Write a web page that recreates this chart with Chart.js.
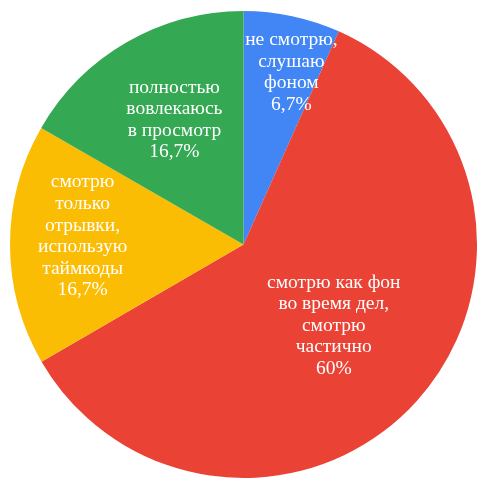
<!DOCTYPE html>
<html>
<head>
<meta charset="utf-8">
<script src="https://cdn.jsdelivr.net/npm/chart.js@4/dist/chart.umd.min.js"></script>
<style>
  html, body { margin: 0; padding: 0; background: #fff; overflow: hidden; }
  #wrap { width: 477px; height: 481px; position: relative; }
</style>
</head>
<body>
<div id="wrap"><canvas id="pie"></canvas></div>
<script>
// ответы на вопрос, по часовой стрелке от верхней точки
const labels = [
  ['не смотрю,', 'слушаю', 'фоном'],
  ['смотрю как фон', 'во время дел,', 'смотрю', 'частично'],
  ['смотрю', 'только', 'отрывки,', 'использую', 'таймкоды'],
  ['полностью', 'вовлекаюсь', 'в просмотр']
];
const values = [6.7, 60, 16.7, 16.7];
const percentText = ['6,7%', '60%', '16,7%', '16,7%'];
const colors = ['#4285f4', '#ea4335', '#fbbc04', '#34a853'];

const LABEL_FONT = '19.5px "Liberation Serif", "Times New Roman", serif';
const LINE_HEIGHT = 21.6;
// доля радиуса и сдвиг угла (в градусах) для подписи каждого сектора
const LABEL_PLACE = [[0.765, 3.5], [0.52, 0], [0.69, 3], [0.61, 1]];

// подписи внутри секторов
const sliceText = {
  id: 'sliceText',
  afterDatasetsDraw(chart) {
    const ctx = chart.ctx;
    const meta = chart.getDatasetMeta(0);
    ctx.save();
    ctx.fillStyle = '#ffffff';
    ctx.font = LABEL_FONT;
    ctx.textAlign = 'center';
    ctx.textBaseline = 'middle';
    meta.data.forEach((arc, i) => {
      const p = arc.getProps(['x', 'y', 'startAngle', 'endAngle', 'outerRadius'], true);
      const place = LABEL_PLACE[i];
      const mid = (p.startAngle + p.endAngle) / 2 + place[1] * Math.PI / 180;
      const r = p.outerRadius * place[0];
      const cx = p.x + Math.cos(mid) * r;
      const cy = p.y + Math.sin(mid) * r;
      const lines = labels[i].concat([percentText[i]]);
      const top = cy - (lines.length - 1) * LINE_HEIGHT / 2;
      lines.forEach((line, k) => {
        ctx.fillText(line, cx, top + k * LINE_HEIGHT);
      });
    });
    ctx.restore();
  }
};

new Chart(document.getElementById('pie'), {
  type: 'pie',
  data: {
    labels: labels.map(l => l.join(' ')),
    datasets: [{
      data: values,
      backgroundColor: colors,
      borderWidth: 0
    }]
  },
  options: {
    responsive: true,
    maintainAspectRatio: false,
    animation: false,
    layout: { padding: { left: 10, right: 0, top: 11, bottom: 3 } },
    plugins: {
      legend: { display: false },
      tooltip: { enabled: false }
    }
  },
  plugins: [sliceText]
});
</script>
</body>
</html>
